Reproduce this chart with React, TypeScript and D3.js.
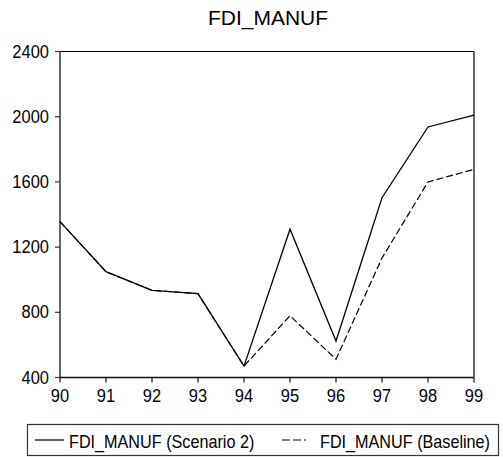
import React from "react";
import * as d3 from "d3";

const years = ["90", "91", "92", "93", "94", "95", "96", "97", "98", "99"];
const scenario2 = [1356, 1049, 935, 914, 470, 1310, 624, 1503, 1937, 2010];
const baseline = [1356, 1049, 935, 914, 470, 779, 512, 1133, 1600, 1677];
const yTicks = [400, 800, 1200, 1600, 2000, 2400];
const seriesNames = ["FDI_MANUF (Scenario 2)", "FDI_MANUF (Baseline)"];
const title = "FDI_MANUF";

const W = 503;
const H = 457;
const left = 60;
const right = 474;
const top = 51.5;
const bottom = 377.5;
const font = "'Liberation Sans', Arial, sans-serif";

function T(props: { x: number; y: number; anchor?: string; size: number; sy?: number; children: React.ReactNode }) {
  const { x, y, anchor = "start", size, sy = 1.1, children } = props;
  return (
    <text
      transform={`translate(${x},${y}) scale(1,${sy})`}
      textAnchor={anchor as any}
      fontSize={size}
      fill="#000"
    >
      {children}
    </text>
  );
}

export default function App() {
  const x = d3.scalePoint<string>().domain(years).range([left, right]);
  const y = d3.scaleLinear().domain([400, 2400]).range([bottom, top]);
  const line = d3
    .line<number>()
    .x((_, i) => x(years[i]) as number)
    .y((d) => y(d));

  return (
    <svg
      width={W}
      height={H}
      style={{ position: "absolute", left: 0, top: 0, background: "#fff" }}
      fontFamily={font}
    >
      <rect x={0} y={0} width={W} height={H} fill="#fff" />
      <text x={268} y={25} textAnchor="middle" fontSize={21} fill="#000">
        {title}
      </text>
      {/* frame */}
      <line x1={left} x2={right} y1={top} y2={top} stroke="#000" strokeWidth={1.2} />
      <line x1={right} x2={right} y1={top} y2={bottom} stroke="#000" strokeWidth={1.2} />
      <line x1={left} x2={left} y1={top} y2={bottom} stroke="#555" strokeWidth={1.8} />
      <line x1={left} x2={right} y1={bottom} y2={bottom} stroke="#111" strokeWidth={1.5} />
      {/* y ticks */}
      {yTicks.map((t) => (
        <g key={t}>
          <line x1={left - 5} x2={left} y1={y(t)} y2={y(t)} stroke="#333" strokeWidth={1.2} />
          <T x={49} y={y(t) + 6} anchor="end" size={16.5}>
            {t}
          </T>
        </g>
      ))}
      {/* x ticks */}
      {years.map((yr) => (
        <g key={yr}>
          <line x1={x(yr)} x2={x(yr)} y1={bottom} y2={bottom + 5} stroke="#111" strokeWidth={1.2} />
          <T x={x(yr) as number} y={401.5} anchor="middle" size={16.5}>
            {yr}
          </T>
        </g>
      ))}
      {/* lines */}
      <path d={line(baseline) || ""} fill="none" stroke="#000" strokeWidth={1.2} strokeDasharray="7,3" />
      <path d={line(scenario2) || ""} fill="none" stroke="#000" strokeWidth={1.3} />
      {/* legend */}
      <rect x={27.5} y={424.5} width={471} height={31} fill="#fff" stroke="#333" strokeWidth={1.2} />
      <line x1={35} x2={64} y1={440} y2={440} stroke="#000" strokeWidth={1.2} />
      <T x={69} y={448} size={16.2} sy={1.12}>
        {seriesNames[0]}
      </T>
      <line x1={282} x2={310} y1={440} y2={440} stroke="#000" strokeWidth={1.2} strokeDasharray="8,3,8,3,2,40" />
      <T x={320} y={448} size={16.2} sy={1.12}>
        {seriesNames[1]}
      </T>
    </svg>
  );
}
